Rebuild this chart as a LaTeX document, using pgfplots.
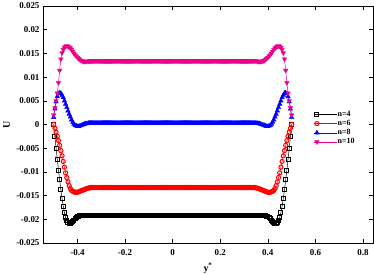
\documentclass[border=0pt]{standalone}
\usepackage{pgfplots}
\pgfplotsset{compat=1.18}
\usepackage{pgfplotstable}
\usepackage{fontspec}
\setmainfont{Liberation Serif}
\pgfplotstableread{
y U4 U6 U8 U10
-0.500 0.0000 0.0000 0.0015 0.0020
-0.495 -0.0025 -0.0008 0.0033 0.0035
-0.490 -0.0050 -0.0016 0.0048 0.0050
-0.485 -0.0073 -0.0025 0.0059 0.0066
-0.480 -0.0096 -0.0034 0.0065 0.0088
-0.475 -0.0117 -0.0044 0.0067 0.0114
-0.470 -0.0138 -0.0055 0.0066 0.0138
-0.465 -0.0156 -0.0066 0.0062 0.0151
-0.460 -0.0172 -0.0078 0.0057 0.0158
-0.455 -0.0186 -0.0090 0.0050 0.0162
-0.450 -0.0196 -0.0102 0.0043 0.0165
-0.445 -0.0203 -0.0112 0.0036 0.0166
-0.440 -0.0206 -0.0121 0.0029 0.0165
-0.435 -0.0208 -0.0129 0.0022 0.0163
-0.430 -0.0208 -0.0135 0.0016 0.0161
-0.425 -0.0207 -0.0139 0.0010 0.0158
-0.420 -0.0205 -0.0141 0.0005 0.0154
-0.415 -0.0202 -0.0142 0.0001 0.0150
-0.410 -0.0199 -0.0143 -0.0002 0.0147
-0.405 -0.0197 -0.0143 -0.0003 0.0144
-0.400 -0.0195 -0.0143 -0.0004 0.0141
-0.395 -0.0194 -0.0142 -0.0004 0.0139
-0.390 -0.0193 -0.0141 -0.0003 0.0137
-0.385 -0.0192 -0.0140 -0.0002 0.0135
-0.380 -0.0192 -0.0139 -0.0001 0.0134
-0.375 -0.0191 -0.0138 0.0000 0.0133
-0.370 -0.0191 -0.0137 0.0001 0.0133
-0.365 -0.0191 -0.0136 0.0002 0.0133
-0.360 -0.0191 -0.0135 0.0002 0.0133
-0.355 -0.0191 -0.0134 0.0003 0.0133
-0.350 -0.0191 -0.0134 0.0003 0.0134
-0.346 -0.0191 -0.0133 0.0003 0.0134
-0.342 -0.0191 -0.0133 0.0003 0.0134
-0.338 -0.0191 -0.0133 0.0003 0.0134
-0.334 -0.0191 -0.0133 0.0003 0.0134
-0.330 -0.0191 -0.0133 0.0003 0.0134
-0.326 -0.0191 -0.0133 0.0003 0.0134
-0.322 -0.0191 -0.0133 0.0003 0.0134
-0.318 -0.0191 -0.0133 0.0003 0.0134
-0.314 -0.0191 -0.0133 0.0003 0.0134
-0.310 -0.0191 -0.0133 0.0003 0.0134
-0.306 -0.0191 -0.0133 0.0003 0.0134
-0.302 -0.0191 -0.0133 0.0003 0.0134
-0.298 -0.0191 -0.0133 0.0003 0.0134
-0.294 -0.0191 -0.0133 0.0003 0.0134
-0.290 -0.0191 -0.0133 0.0003 0.0134
-0.286 -0.0191 -0.0133 0.0003 0.0134
-0.282 -0.0191 -0.0133 0.0003 0.0134
-0.278 -0.0191 -0.0133 0.0003 0.0134
-0.274 -0.0191 -0.0133 0.0003 0.0134
-0.270 -0.0191 -0.0133 0.0003 0.0134
-0.266 -0.0191 -0.0133 0.0003 0.0134
-0.262 -0.0191 -0.0133 0.0003 0.0134
-0.258 -0.0191 -0.0133 0.0003 0.0134
-0.254 -0.0191 -0.0133 0.0003 0.0134
-0.250 -0.0191 -0.0133 0.0003 0.0134
-0.246 -0.0191 -0.0133 0.0003 0.0134
-0.242 -0.0191 -0.0133 0.0003 0.0134
-0.238 -0.0191 -0.0133 0.0003 0.0134
-0.234 -0.0191 -0.0133 0.0003 0.0134
-0.230 -0.0191 -0.0133 0.0003 0.0134
-0.226 -0.0191 -0.0133 0.0003 0.0134
-0.222 -0.0191 -0.0133 0.0003 0.0134
-0.218 -0.0191 -0.0133 0.0003 0.0134
-0.214 -0.0191 -0.0133 0.0003 0.0134
-0.210 -0.0191 -0.0133 0.0003 0.0134
-0.206 -0.0191 -0.0133 0.0003 0.0134
-0.202 -0.0191 -0.0133 0.0003 0.0134
-0.198 -0.0191 -0.0133 0.0003 0.0134
-0.194 -0.0191 -0.0133 0.0003 0.0134
-0.190 -0.0191 -0.0133 0.0003 0.0134
-0.186 -0.0191 -0.0133 0.0003 0.0134
-0.182 -0.0191 -0.0133 0.0003 0.0134
-0.178 -0.0191 -0.0133 0.0003 0.0134
-0.174 -0.0191 -0.0133 0.0003 0.0134
-0.170 -0.0191 -0.0133 0.0003 0.0134
-0.166 -0.0191 -0.0133 0.0003 0.0134
-0.162 -0.0191 -0.0133 0.0003 0.0134
-0.158 -0.0191 -0.0133 0.0003 0.0134
-0.154 -0.0191 -0.0133 0.0003 0.0134
-0.150 -0.0191 -0.0133 0.0003 0.0134
-0.146 -0.0191 -0.0133 0.0003 0.0134
-0.142 -0.0191 -0.0133 0.0003 0.0134
-0.138 -0.0191 -0.0133 0.0003 0.0134
-0.134 -0.0191 -0.0133 0.0003 0.0134
-0.130 -0.0191 -0.0133 0.0003 0.0134
-0.126 -0.0191 -0.0133 0.0003 0.0134
-0.122 -0.0191 -0.0133 0.0003 0.0134
-0.118 -0.0191 -0.0133 0.0003 0.0134
-0.114 -0.0191 -0.0133 0.0003 0.0134
-0.110 -0.0191 -0.0133 0.0003 0.0134
-0.106 -0.0191 -0.0133 0.0003 0.0134
-0.102 -0.0191 -0.0133 0.0003 0.0134
-0.098 -0.0191 -0.0133 0.0003 0.0134
-0.094 -0.0191 -0.0133 0.0003 0.0134
-0.090 -0.0191 -0.0133 0.0003 0.0134
-0.086 -0.0191 -0.0133 0.0003 0.0134
-0.082 -0.0191 -0.0133 0.0003 0.0134
-0.078 -0.0191 -0.0133 0.0003 0.0134
-0.074 -0.0191 -0.0133 0.0003 0.0134
-0.070 -0.0191 -0.0133 0.0003 0.0134
-0.066 -0.0191 -0.0133 0.0003 0.0134
-0.062 -0.0191 -0.0133 0.0003 0.0134
-0.058 -0.0191 -0.0133 0.0003 0.0134
-0.054 -0.0191 -0.0133 0.0003 0.0134
-0.050 -0.0191 -0.0133 0.0003 0.0134
-0.046 -0.0191 -0.0133 0.0003 0.0134
-0.042 -0.0191 -0.0133 0.0003 0.0134
-0.038 -0.0191 -0.0133 0.0003 0.0134
-0.034 -0.0191 -0.0133 0.0003 0.0134
-0.030 -0.0191 -0.0133 0.0003 0.0134
-0.026 -0.0191 -0.0133 0.0003 0.0134
-0.022 -0.0191 -0.0133 0.0003 0.0134
-0.018 -0.0191 -0.0133 0.0003 0.0134
-0.014 -0.0191 -0.0133 0.0003 0.0134
-0.010 -0.0191 -0.0133 0.0003 0.0134
-0.006 -0.0191 -0.0133 0.0003 0.0134
-0.002 -0.0191 -0.0133 0.0003 0.0134
0.002 -0.0191 -0.0133 0.0003 0.0134
0.006 -0.0191 -0.0133 0.0003 0.0134
0.010 -0.0191 -0.0133 0.0003 0.0134
0.014 -0.0191 -0.0133 0.0003 0.0134
0.018 -0.0191 -0.0133 0.0003 0.0134
0.022 -0.0191 -0.0133 0.0003 0.0134
0.026 -0.0191 -0.0133 0.0003 0.0134
0.030 -0.0191 -0.0133 0.0003 0.0134
0.034 -0.0191 -0.0133 0.0003 0.0134
0.038 -0.0191 -0.0133 0.0003 0.0134
0.042 -0.0191 -0.0133 0.0003 0.0134
0.046 -0.0191 -0.0133 0.0003 0.0134
0.050 -0.0191 -0.0133 0.0003 0.0134
0.054 -0.0191 -0.0133 0.0003 0.0134
0.058 -0.0191 -0.0133 0.0003 0.0134
0.062 -0.0191 -0.0133 0.0003 0.0134
0.066 -0.0191 -0.0133 0.0003 0.0134
0.070 -0.0191 -0.0133 0.0003 0.0134
0.074 -0.0191 -0.0133 0.0003 0.0134
0.078 -0.0191 -0.0133 0.0003 0.0134
0.082 -0.0191 -0.0133 0.0003 0.0134
0.086 -0.0191 -0.0133 0.0003 0.0134
0.090 -0.0191 -0.0133 0.0003 0.0134
0.094 -0.0191 -0.0133 0.0003 0.0134
0.098 -0.0191 -0.0133 0.0003 0.0134
0.102 -0.0191 -0.0133 0.0003 0.0134
0.106 -0.0191 -0.0133 0.0003 0.0134
0.110 -0.0191 -0.0133 0.0003 0.0134
0.114 -0.0191 -0.0133 0.0003 0.0134
0.118 -0.0191 -0.0133 0.0003 0.0134
0.122 -0.0191 -0.0133 0.0003 0.0134
0.126 -0.0191 -0.0133 0.0003 0.0134
0.130 -0.0191 -0.0133 0.0003 0.0134
0.134 -0.0191 -0.0133 0.0003 0.0134
0.138 -0.0191 -0.0133 0.0003 0.0134
0.142 -0.0191 -0.0133 0.0003 0.0134
0.146 -0.0191 -0.0133 0.0003 0.0134
0.150 -0.0191 -0.0133 0.0003 0.0134
0.154 -0.0191 -0.0133 0.0003 0.0134
0.158 -0.0191 -0.0133 0.0003 0.0134
0.162 -0.0191 -0.0133 0.0003 0.0134
0.166 -0.0191 -0.0133 0.0003 0.0134
0.170 -0.0191 -0.0133 0.0003 0.0134
0.174 -0.0191 -0.0133 0.0003 0.0134
0.178 -0.0191 -0.0133 0.0003 0.0134
0.182 -0.0191 -0.0133 0.0003 0.0134
0.186 -0.0191 -0.0133 0.0003 0.0134
0.190 -0.0191 -0.0133 0.0003 0.0134
0.194 -0.0191 -0.0133 0.0003 0.0134
0.198 -0.0191 -0.0133 0.0003 0.0134
0.202 -0.0191 -0.0133 0.0003 0.0134
0.206 -0.0191 -0.0133 0.0003 0.0134
0.210 -0.0191 -0.0133 0.0003 0.0134
0.214 -0.0191 -0.0133 0.0003 0.0134
0.218 -0.0191 -0.0133 0.0003 0.0134
0.222 -0.0191 -0.0133 0.0003 0.0134
0.226 -0.0191 -0.0133 0.0003 0.0134
0.230 -0.0191 -0.0133 0.0003 0.0134
0.234 -0.0191 -0.0133 0.0003 0.0134
0.238 -0.0191 -0.0133 0.0003 0.0134
0.242 -0.0191 -0.0133 0.0003 0.0134
0.246 -0.0191 -0.0133 0.0003 0.0134
0.250 -0.0191 -0.0133 0.0003 0.0134
0.254 -0.0191 -0.0133 0.0003 0.0134
0.258 -0.0191 -0.0133 0.0003 0.0134
0.262 -0.0191 -0.0133 0.0003 0.0134
0.266 -0.0191 -0.0133 0.0003 0.0134
0.270 -0.0191 -0.0133 0.0003 0.0134
0.274 -0.0191 -0.0133 0.0003 0.0134
0.278 -0.0191 -0.0133 0.0003 0.0134
0.282 -0.0191 -0.0133 0.0003 0.0134
0.286 -0.0191 -0.0133 0.0003 0.0134
0.290 -0.0191 -0.0133 0.0003 0.0134
0.294 -0.0191 -0.0133 0.0003 0.0134
0.298 -0.0191 -0.0133 0.0003 0.0134
0.302 -0.0191 -0.0133 0.0003 0.0134
0.306 -0.0191 -0.0133 0.0003 0.0134
0.310 -0.0191 -0.0133 0.0003 0.0134
0.314 -0.0191 -0.0133 0.0003 0.0134
0.318 -0.0191 -0.0133 0.0003 0.0134
0.322 -0.0191 -0.0133 0.0003 0.0134
0.326 -0.0191 -0.0133 0.0003 0.0134
0.330 -0.0191 -0.0133 0.0003 0.0134
0.334 -0.0191 -0.0133 0.0003 0.0134
0.338 -0.0191 -0.0133 0.0003 0.0134
0.342 -0.0191 -0.0133 0.0003 0.0134
0.346 -0.0191 -0.0133 0.0003 0.0134
0.350 -0.0191 -0.0134 0.0003 0.0134
0.355 -0.0191 -0.0134 0.0003 0.0133
0.360 -0.0191 -0.0135 0.0002 0.0133
0.365 -0.0191 -0.0136 0.0002 0.0133
0.370 -0.0191 -0.0137 0.0001 0.0133
0.375 -0.0191 -0.0138 0.0000 0.0133
0.380 -0.0192 -0.0139 -0.0001 0.0134
0.385 -0.0192 -0.0140 -0.0002 0.0135
0.390 -0.0193 -0.0141 -0.0003 0.0137
0.395 -0.0194 -0.0142 -0.0004 0.0139
0.400 -0.0195 -0.0143 -0.0004 0.0141
0.405 -0.0197 -0.0143 -0.0003 0.0144
0.410 -0.0199 -0.0143 -0.0002 0.0147
0.415 -0.0202 -0.0142 0.0001 0.0150
0.420 -0.0205 -0.0141 0.0005 0.0154
0.425 -0.0207 -0.0139 0.0010 0.0158
0.430 -0.0208 -0.0135 0.0016 0.0161
0.435 -0.0208 -0.0129 0.0022 0.0163
0.440 -0.0206 -0.0121 0.0029 0.0165
0.445 -0.0203 -0.0112 0.0036 0.0166
0.450 -0.0196 -0.0102 0.0043 0.0165
0.455 -0.0186 -0.0090 0.0050 0.0162
0.460 -0.0172 -0.0078 0.0057 0.0158
0.465 -0.0156 -0.0066 0.0062 0.0151
0.470 -0.0138 -0.0055 0.0066 0.0138
0.475 -0.0117 -0.0044 0.0067 0.0114
0.480 -0.0096 -0.0034 0.0065 0.0088
0.485 -0.0073 -0.0025 0.0059 0.0066
0.490 -0.0050 -0.0016 0.0048 0.0050
0.495 -0.0025 -0.0008 0.0033 0.0035
0.500 0.0000 0.0000 0.0015 0.0020
}\datatable
\begin{document}
\begin{tikzpicture}
\begin{axis}[
  scale only axis, width=330bp, height=237bp,
  xmin=-0.545, xmax=0.842, ymin=-0.025, ymax=0.025,
  xtick={-0.4,-0.2,0,0.2,0.4,0.6,0.8},
  xticklabels={-0.4,-0.2,0,0.2,0.4,0.6,0.8},
  ytick={-0.025,-0.02,-0.015,-0.01,-0.005,0,0.005,0.01,0.015,0.02,0.025},
  yticklabels={-0.025,-0.02,-0.015,-0.01,-0.005,0,0.005,0.01,0.015,0.02,0.025},
  xtick pos=both, ytick pos=both, tick align=inside,
  major tick length=4bp, minor tick num=0,
  tick style={black, line width=0.6pt},
  axis line style={line width=0.8pt},
  ticklabel style={font=\bfseries\fontsize{9}{10}\selectfont},
  xticklabel style={yshift=-3bp},
  xlabel={\textbf{y}\textsuperscript{\textbf{*}}},
  ylabel={\textbf{U}},
  label style={font=\fontsize{10}{11}\selectfont},
  xlabel style={at={(axis description cs:0.5,0)}, yshift=-25bp, anchor=center},
  ylabel style={at={(axis description cs:-0.11,0.5)}, anchor=center},
  legend cell align=left,
  legend image code/.code={\path (-0.1cm,0cm) -- (0.7cm,0cm); \draw[#1] plot[only marks] coordinates {(0cm,0cm)};},
  legend style={draw=none, fill=none, at={(rel axis cs:0.82,0.56)}, anchor=north west,
    font=\bfseries\fontsize{8}{9}\selectfont, row sep=1.2bp, inner sep=0pt,
    nodes={inner sep=0.6pt}},
]
\addplot[black, line width=0.5pt, mark=square, mark size=2bp, mark options={line width=1pt, solid}] table[x=y, y=U4] {\datatable};
\addlegendentry{n=4}
\addplot[red, line width=0.5pt, mark=o, mark size=2.1bp, mark options={line width=1pt, solid}] table[x=y, y=U6] {\datatable};
\addlegendentry{n=6}
\addplot[blue, line width=0.5pt, mark=triangle*, mark size=2.6bp, mark options={line width=0.4pt, solid}] table[x=y, y=U8] {\datatable};
\addlegendentry{n=8}
\addplot[magenta, line width=0.5pt, mark=triangle*, mark size=2.6bp, mark options={line width=0.4pt, solid, rotate=180}] table[x=y, y=U10] {\datatable};
\addlegendentry{n=10}
\end{axis}
\pgfresetboundingbox
\path[use as bounding box] ([shift={(-43bp,-32bp)}]current axis.south west) rectangle ([shift={(1bp,6bp)}]current axis.north east);
\end{tikzpicture}
\end{document}
